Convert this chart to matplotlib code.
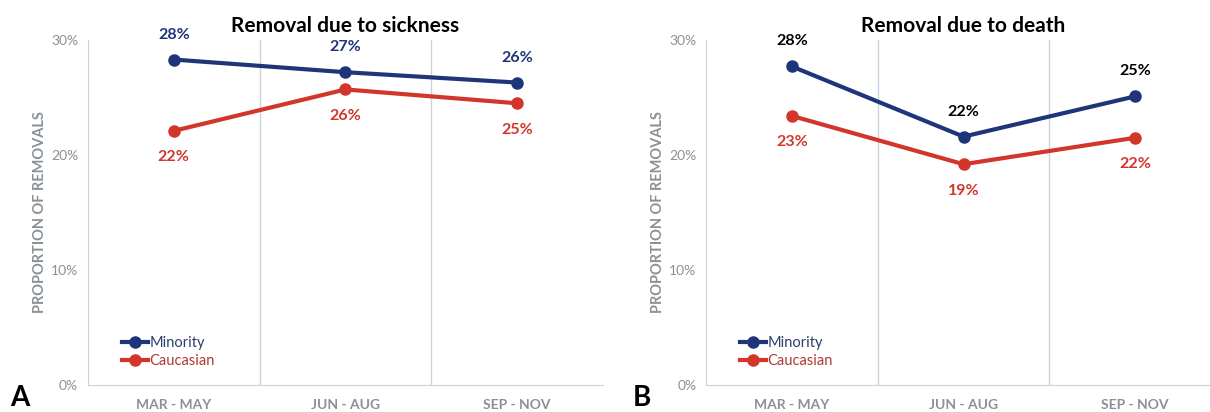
import matplotlib.pyplot as plt
import numpy as np

plt.rcParams['font.family'] = ['Lato', 'DejaVu Sans']

periods = ['MAR - MAY', 'JUN - AUG', 'SEP - NOV']
sick_minority = [28.3, 27.2, 26.3]
sick_caucasian = [22.1, 25.7, 24.5]
death_minority = [27.7, 21.6, 25.1]
death_caucasian = [23.4, 19.2, 21.5]
sick_min_labels = ['28%', '27%', '26%']
sick_cau_labels = ['22%', '26%', '25%']
death_min_labels = ['28%', '22%', '25%']
death_cau_labels = ['23%', '19%', '22%']

blue = '#1f3579'
red = '#d2362b'
grid_c = '#c9d3da'
tick_c = '#8a9196'

fig = plt.figure(figsize=(12.1, 4.12), dpi=100)
ax1 = fig.add_axes([0.0727, 0.0655, 0.4256, 0.8374])
ax2 = fig.add_axes([0.5835, 0.0655, 0.4256, 0.8374])


def draw(ax, title, mino, cau, min_lab, cau_lab, min_lab_color):
    x = np.arange(len(periods))
    ax.plot(x, mino, color=blue, lw=3, marker='o', ms=8, label='Minority', zorder=3)
    ax.plot(x, cau, color=red, lw=3, marker='o', ms=8, label='Caucasian', zorder=3)
    for xi, v, t in zip(x, mino, min_lab):
        ax.annotate(t, (xi, v), xytext=(0, 13), textcoords='offset points', ha='center',
                    va='bottom', fontsize=11.5, fontweight='bold', color=min_lab_color)
    for xi, v, t in zip(x, cau, cau_lab):
        ax.annotate(t, (xi, v), xytext=(0, -14), textcoords='offset points', ha='center',
                    va='top', fontsize=11.5, fontweight='bold', color=red)
    ax.set_xlim(-0.5, 2.5)
    ax.set_ylim(0, 30)
    ax.set_yticks([0, 10, 20, 30])
    ax.set_yticklabels(['0%', '10%', '20%', '30%'])
    ax.set_xticks(x)
    ax.set_xticklabels(periods)
    for b in [0.5, 1.5]:
        ax.axvline(b, color=grid_c, lw=1, zorder=1)
    for s in ['top', 'right']:
        ax.spines[s].set_visible(False)
    ax.spines['left'].set_color(grid_c)
    ax.spines['bottom'].set_color(grid_c)
    ax.tick_params(length=0, colors=tick_c, labelsize=10, pad=10)
    ax.tick_params(axis='y', pad=7)
    for lab in ax.get_xticklabels():
        lab.set_fontweight('bold')
    ax.set_ylabel('PROPORTION OF REMOVALS', color=tick_c, fontsize=10.5,
                  fontweight='bold', labelpad=3)
    ax.set_title(title, fontsize=15, fontweight='bold', pad=6)
    ax.legend(loc='lower left', bbox_to_anchor=(0.04, 0.01), frameon=False, fontsize=10.5,
              handlelength=1.8, handletextpad=0.1, labelspacing=0.3,
              labelcolor=['#2c3e6b', '#b03a33'])


draw(ax1, 'Removal due to sickness', sick_minority, sick_caucasian,
     sick_min_labels, sick_cau_labels, blue)
draw(ax2, 'Removal due to death', death_minority, death_caucasian,
     death_min_labels, death_cau_labels, 'black')

fig.text(0.008, 0.015, 'A', fontsize=20, fontweight='bold')
fig.text(0.523, 0.015, 'B', fontsize=20, fontweight='bold')

fig.savefig('out.png', dpi=100)
